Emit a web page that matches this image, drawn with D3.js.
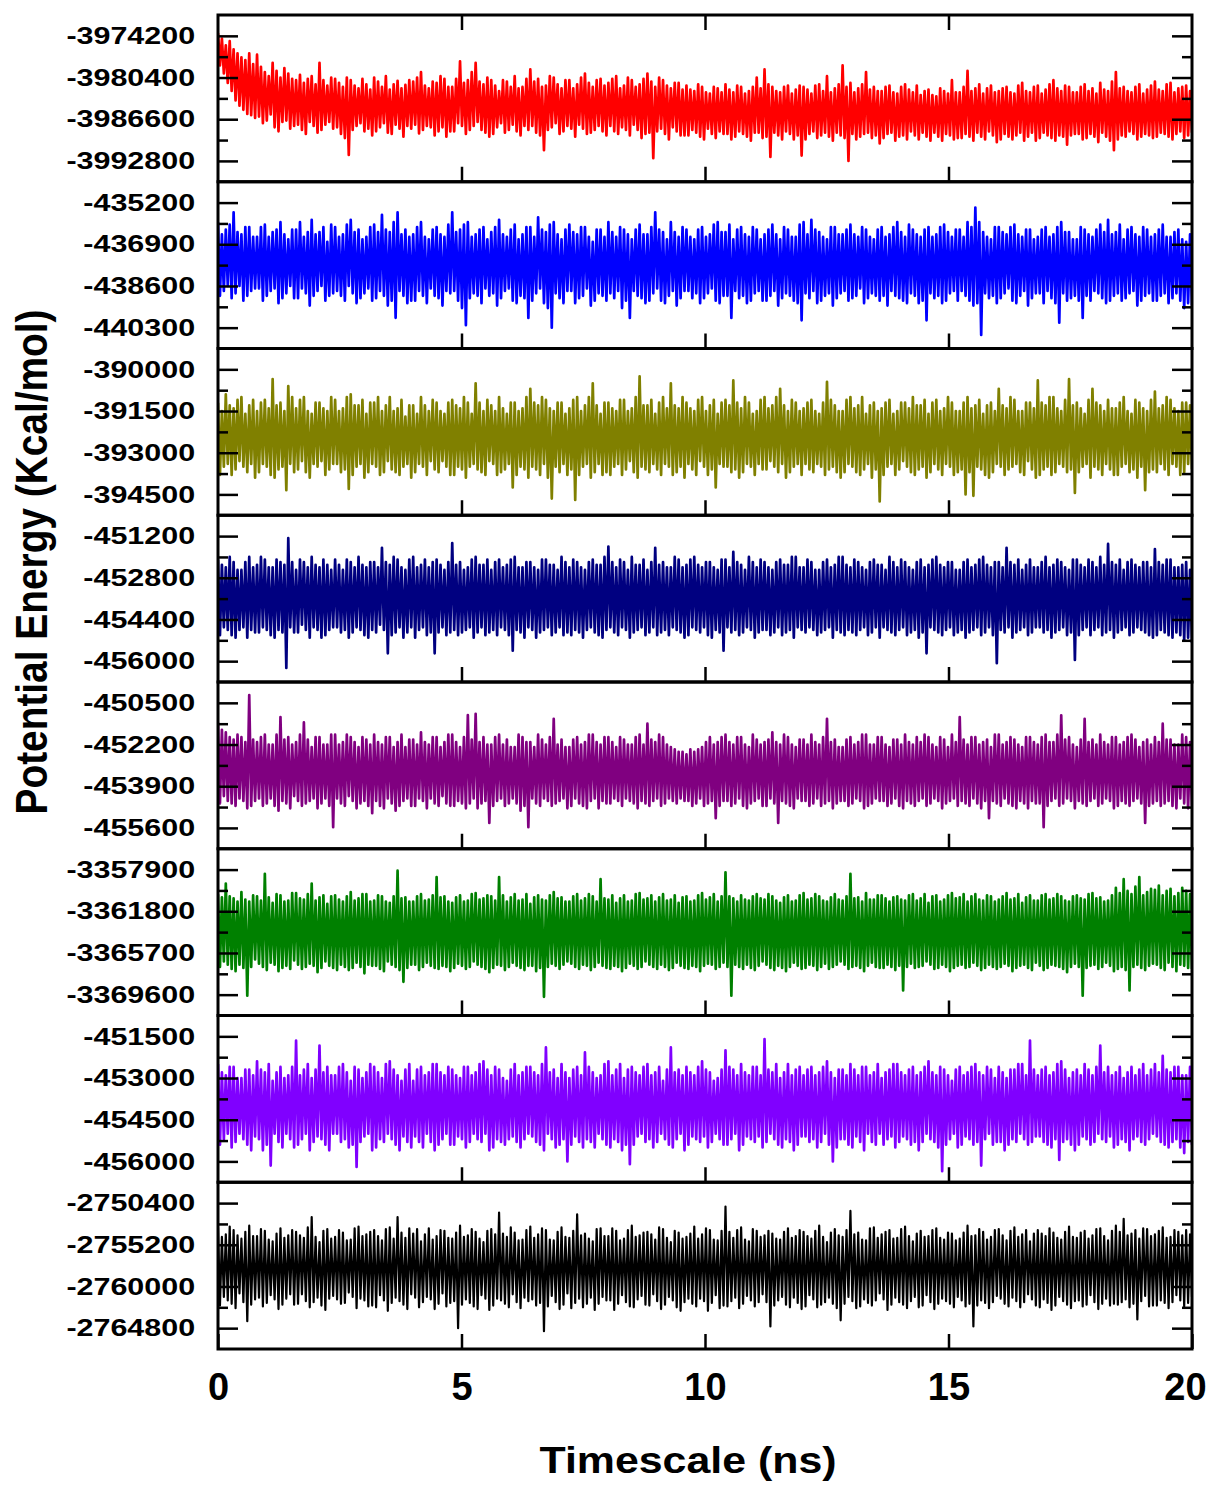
<!DOCTYPE html>
<html>
<head>
<meta charset="utf-8">
<script src="https://cdnjs.cloudflare.com/ajax/libs/d3/7.8.5/d3.min.js"></script>
<style>
  body { margin: 0; background: #fff; }
  svg text { font-family: "Liberation Sans", Arial, sans-serif; font-weight: bold; fill: #000; }
</style>
</head>
<body>
<div id="chart"></div>
<script>
// potential energy, 500 samples each over 0-20 ns
const energyRed = [
  -3973800, -3978600, -3974600, -3979800, -3975600, -3981200, -3975000, -3982400, -3976200, -3983800, -3976800, -3984600, -3977400, -3985200, -3977800, -3985800, -3976800, -3986000, -3978400, -3986400,
  -3977000, -3986200, -3978800, -3987200, -3979600, -3986800, -3980200, -3985900, -3978200, -3987800, -3979400, -3988400, -3980400, -3987000, -3979000, -3986800, -3979800, -3988000, -3980600, -3987600,
  -3980800, -3987400, -3980000, -3988200, -3981200, -3988800, -3980600, -3987000, -3980200, -3987600, -3981400, -3988600, -3978200, -3988200, -3980800, -3987400, -3981600, -3987000, -3980400, -3988000,
  -3980600, -3987800, -3981200, -3988800, -3981800, -3989400, -3980400, -3991900, -3980800, -3988200, -3981600, -3987600, -3982000, -3987200, -3980600, -3988400, -3981400, -3988000, -3982200, -3989000,
  -3980400, -3988400, -3981000, -3987800, -3981800, -3987200, -3980200, -3988600, -3982200, -3988800, -3981400, -3987400, -3980900, -3988000, -3982000, -3989200, -3981500, -3987600, -3980800, -3988000,
  -3981000, -3987400, -3980400, -3988700, -3979600, -3988200, -3981600, -3987600, -3982000, -3987800, -3981000, -3989000, -3981200, -3988400, -3980200, -3987800, -3980600, -3989200, -3981800, -3988400,
  -3981800, -3988400, -3980600, -3987200, -3978000, -3987600, -3981200, -3988800, -3980800, -3988200, -3979600, -3987600, -3978200, -3987000, -3981000, -3988200, -3981400, -3988600, -3980400, -3989200,
  -3980800, -3988800, -3981600, -3987800, -3982400, -3987200, -3980800, -3988600, -3981000, -3988200, -3981800, -3987400, -3980200, -3988400, -3982000, -3989000, -3981800, -3987600, -3980600, -3988200,
  -3979200, -3987600, -3981000, -3988600, -3980600, -3989000, -3981800, -3991200, -3981600, -3988200, -3980200, -3987800, -3980400, -3987200, -3981400, -3988800, -3982000, -3988400, -3980800, -3987600,
  -3980800, -3988000, -3982000, -3989200, -3981400, -3987400, -3980400, -3988000, -3979800, -3988800, -3981200, -3988600, -3981800, -3988200, -3980800, -3987600, -3980600, -3988400, -3981600, -3989000,
  -3981200, -3987600, -3980600, -3988400, -3980200, -3988800, -3982000, -3987800, -3981600, -3988200, -3980400, -3989000, -3980800, -3987400, -3981800, -3988200, -3981400, -3989400, -3980600, -3988800,
  -3979800, -3988600, -3981000, -3992400, -3981800, -3988400, -3980400, -3988000, -3980800, -3988800, -3981600, -3989600, -3982000, -3987800, -3981200, -3988400, -3981200, -3989000, -3982200, -3989000,
  -3981600, -3989000, -3982200, -3988200, -3982400, -3988600, -3981400, -3989200, -3981800, -3989600, -3982600, -3988000, -3982800, -3988800, -3981800, -3989400, -3982000, -3988400, -3982600, -3988800,
  -3981400, -3988800, -3982200, -3989600, -3982600, -3989200, -3981600, -3988400, -3981800, -3988800, -3982800, -3989200, -3982400, -3989800, -3981800, -3988600, -3980400, -3988600, -3982000, -3989400,
  -3979200, -3989200, -3981400, -3992200, -3981800, -3988600, -3982400, -3989000, -3982600, -3989600, -3981800, -3988400, -3981600, -3988800, -3982800, -3989600, -3982200, -3989000, -3981600, -3992000,
  -3981800, -3989600, -3982200, -3988800, -3982800, -3988400, -3981600, -3989400, -3981400, -3989000, -3982400, -3988600, -3980200, -3989200, -3982600, -3989800, -3982000, -3988600, -3981400, -3989000,
  -3978600, -3989400, -3981800, -3992800, -3981200, -3988800, -3982600, -3989600, -3982000, -3989200, -3981400, -3988800, -3979600, -3988600, -3982200, -3989400, -3981800, -3989000, -3982400, -3990200,
  -3982400, -3989400, -3981800, -3988800, -3981600, -3988600, -3982600, -3989800, -3982800, -3989200, -3981800, -3989000, -3981400, -3989600, -3982200, -3988400, -3982600, -3989000, -3981600, -3989600,
  -3983000, -3988600, -3982400, -3989200, -3982200, -3989800, -3983000, -3988600, -3983200, -3989200, -3982000, -3989800, -3982400, -3988800, -3982800, -3989000, -3980800, -3989600, -3982600, -3989400,
  -3982600, -3989400, -3981800, -3988800, -3979400, -3989200, -3982400, -3989800, -3982000, -3988600, -3981400, -3989200, -3982800, -3989600, -3982000, -3988400, -3981600, -3989000, -3982600, -3990000,
  -3982400, -3989600, -3982000, -3988800, -3981800, -3989200, -3982600, -3989600, -3982800, -3989000, -3981600, -3988600, -3981200, -3989800, -3982400, -3989200, -3982600, -3988600, -3981800, -3989800,
  -3981600, -3989400, -3982800, -3988600, -3982200, -3989000, -3981400, -3989400, -3980800, -3989800, -3982000, -3989000, -3982400, -3989200, -3981600, -3990400, -3981800, -3989000, -3982600, -3988800,
  -3982600, -3988800, -3981800, -3989600, -3981400, -3989400, -3982400, -3988800, -3982000, -3989200, -3982800, -3990000, -3981200, -3988600, -3982200, -3989200, -3982400, -3989800, -3981000, -3991200,
  -3979600, -3989600, -3982000, -3989000, -3981800, -3989200, -3982400, -3988400, -3982600, -3988800, -3981800, -3989600, -3981400, -3989200, -3982800, -3988800, -3982200, -3989000, -3981600, -3989400,
  -3981000, -3989200, -3982200, -3988600, -3982400, -3988800, -3981400, -3989200, -3981200, -3989600, -3982600, -3988800, -3982000, -3988400, -3981800, -3989400, -3981600, -3989000, -3982400, -3988600
];
const energyBlue = [
  -436000, -439000, -436500, -438800, -436300, -438600, -436100, -439100, -435600, -438900, -436400, -438600, -436500, -439200, -436200, -439000, -436200, -438800, -436600, -438700,
  -436600, -438700, -436200, -439200, -436100, -439000, -436600, -438800, -436400, -438700, -436300, -439300, -436000, -439100, -436500, -438900, -436700, -438600, -436300, -439100,
  -436300, -439100, -436000, -438700, -436600, -438900, -436400, -439400, -435900, -439000, -436500, -438800, -436400, -438600, -436200, -439200, -436800, -439000, -436100, -438900,
  -436200, -438800, -436600, -439000, -436500, -439200, -436100, -438600, -435900, -438900, -436400, -439300, -436300, -439100, -436700, -438900, -436600, -438700, -436200, -439200,
  -436100, -439100, -436400, -438800, -435700, -439000, -436300, -439400, -436400, -439200, -436000, -439900, -435600, -438800, -436500, -439000, -436300, -439300, -436600, -439200,
  -436500, -439200, -436200, -438800, -436000, -439000, -436600, -439300, -436700, -438700, -436300, -439000, -436200, -439100, -436500, -439400, -436600, -438800, -436100, -438900,
  -435600, -438800, -436400, -439200, -436300, -439500, -436100, -440200, -436000, -439100, -436600, -438900, -436500, -439000, -436300, -439300, -436200, -438700, -436700, -439000,
  -436400, -438900, -436200, -439400, -435900, -439100, -436500, -438800, -436600, -438700, -436300, -439200, -436100, -439300, -436700, -439000, -436500, -439100, -436200, -439900,
  -436200, -439200, -436600, -438900, -435800, -438700, -436300, -439300, -436400, -439500, -436100, -440300, -436000, -438900, -436500, -439100, -436700, -439300, -436300, -438800,
  -436100, -438800, -436400, -439300, -436500, -439100, -436200, -439000, -436200, -438700, -436600, -439400, -436800, -439200, -436300, -438900, -436300, -439000, -436600, -439200,
  -436000, -438900, -436400, -439100, -436600, -438800, -436200, -439500, -436300, -439200, -436500, -439900, -436700, -438800, -436300, -439000, -436100, -439100, -436500, -439300,
  -436500, -439200, -436200, -438900, -435600, -438700, -436300, -439200, -436400, -439300, -436700, -439000, -436000, -438800, -436400, -439400, -436600, -439100, -436200, -438800,
  -436300, -438800, -436600, -439100, -436700, -438900, -436300, -439300, -436200, -439100, -436600, -438900, -436500, -438700, -436100, -439200, -436000, -439300, -436400, -439000,
  -436400, -439000, -436100, -439900, -436700, -438800, -436300, -439100, -436200, -439000, -436500, -439300, -436600, -439200, -436200, -438900, -436300, -438800, -436700, -439200,
  -436500, -439200, -436300, -439000, -436100, -438800, -436500, -439400, -436700, -439100, -436200, -438900, -436300, -439000, -436600, -439200, -436600, -439300, -436100, -440000,
  -436000, -438900, -436500, -439100, -435900, -438800, -436300, -439300, -436400, -439200, -436600, -439000, -436700, -438900, -436200, -439400, -436200, -439100, -436500, -438900,
  -436500, -438800, -436300, -439200, -436100, -439100, -436500, -439000, -436600, -438700, -436200, -439300, -436300, -439100, -436600, -438900, -436700, -439000, -436300, -439200,
  -436200, -439000, -436600, -439400, -436500, -438800, -436200, -439000, -436000, -439100, -436400, -439200, -436600, -439300, -436100, -438900, -436300, -439000, -436500, -439300,
  -436600, -439200, -436300, -440000, -436200, -438900, -436600, -439100, -436500, -439000, -436200, -439300, -436100, -439200, -436400, -438900, -436600, -438800, -436300, -439200,
  -436300, -438800, -436600, -439000, -436000, -439200, -436200, -439400, -435400, -439300, -436000, -440600, -436400, -438900, -436600, -439100, -436700, -439000, -436200, -439300,
  -436200, -439100, -436400, -438900, -436500, -438700, -436200, -439200, -436100, -439300, -436500, -439000, -436600, -438800, -436300, -439400, -436300, -439100, -436700, -438900,
  -436600, -438900, -436300, -439300, -436200, -438800, -436600, -439100, -436500, -439300, -436200, -440100, -436000, -438900, -436400, -439200, -436400, -439100, -436700, -439000,
  -436700, -439200, -436200, -439900, -436300, -439000, -436500, -439200, -436600, -438800, -436300, -438900, -436100, -439100, -436400, -439300, -435900, -439200, -436500, -439000,
  -436400, -438900, -436100, -439200, -436700, -439100, -436300, -438900, -436200, -438800, -436500, -439400, -436600, -439200, -436200, -439000, -436300, -438900, -436600, -439200,
  -436500, -439200, -436300, -439000, -436100, -438900, -436600, -439300, -436600, -439100, -436400, -438900, -436300, -439200, -436700, -439500, -436800, -439300, -436500, -439400
];
const energyOlive = [
  -391200, -393800, -391500, -393500, -390900, -393400, -391300, -393800, -391400, -393600, -391100, -393300, -391000, -393500, -391600, -393700, -391300, -393400, -391100, -393900,
  -391500, -393700, -391200, -393400, -391100, -393500, -391400, -393800, -390350, -393900, -391300, -393600, -391200, -393500, -391500, -394350, -390600, -393400, -391000, -393700,
  -391400, -393600, -391100, -393300, -391000, -393700, -391500, -393900, -391600, -393400, -391200, -393500, -391200, -393300, -391400, -393800, -391500, -393600, -391000, -393400,
  -391100, -393400, -391500, -393700, -391400, -393600, -391000, -394300, -390900, -393800, -391300, -393500, -391300, -393400, -391100, -393900, -391600, -393700, -391200, -393400,
  -391200, -393500, -391000, -393800, -391500, -393700, -391300, -393300, -391000, -393600, -391500, -393700, -391400, -393800, -391100, -393500, -391700, -393400, -391300, -393900,
  -391300, -393700, -391600, -393400, -391000, -393500, -391300, -393800, -391500, -393300, -391100, -393600, -391200, -393700, -391500, -393300, -391600, -393500, -391200, -393800,
  -391100, -393800, -391300, -393500, -391400, -393600, -391000, -393900, -391200, -393500, -391600, -393400, -390500, -393600, -391200, -393700, -391500, -393800, -391100, -393300,
  -391300, -393400, -391500, -393800, -391000, -393700, -391400, -393600, -391600, -393400, -391200, -394250, -391200, -393800, -391500, -393500, -391400, -393600, -391000, -393900,
  -390700, -393500, -391200, -393600, -391300, -393800, -391000, -393400, -391100, -393900, -391400, -394650, -391500, -393500, -391200, -393700, -391200, -393400, -391600, -393800,
  -391400, -393600, -391100, -394700, -391000, -393800, -391500, -393500, -391300, -393400, -391000, -393900, -390500, -393700, -391300, -393400, -391600, -393800, -391200, -393700,
  -391200, -393800, -391400, -393500, -391500, -393400, -391100, -393800, -391100, -393600, -391500, -393300, -391400, -393700, -391000, -393900, -390250, -393500, -391300, -393600,
  -391300, -393700, -391100, -393400, -391600, -393600, -391200, -393800, -391000, -393400, -391400, -393500, -390500, -393800, -391300, -393700, -391400, -393500, -391000, -393900,
  -391200, -393400, -391400, -393600, -391500, -393800, -391100, -393300, -391000, -393500, -391500, -393800, -391300, -393600, -391100, -394250, -391600, -393400, -391200, -393500,
  -391100, -393500, -391300, -393700, -390400, -393600, -391200, -393900, -391400, -393700, -391000, -393400, -391200, -393500, -391600, -393800, -391500, -393400, -391100, -393600,
  -391000, -393600, -391400, -393300, -391300, -393500, -391000, -393700, -390700, -393400, -391300, -393900, -391500, -393700, -391100, -393500, -391200, -393400, -391500, -393800,
  -391400, -393400, -391200, -393600, -391100, -393700, -391500, -393400, -391600, -393500, -391200, -393800, -390450, -393600, -391100, -393500, -391300, -393700, -391500, -393900,
  -391500, -393700, -391100, -393400, -391000, -393500, -391400, -393700, -391300, -393800, -391000, -393600, -391600, -393400, -391300, -393900, -391200, -393600, -391500, -394750,
  -391400, -393800, -391200, -393500, -391100, -393400, -391600, -393800, -391500, -393600, -391200, -393300, -391200, -393500, -391400, -393700, -391000, -393800, -391300, -393600,
  -391300, -393500, -391100, -393900, -391600, -393700, -391200, -393400, -391100, -393600, -391500, -393800, -391400, -393400, -391000, -393500, -391200, -393800, -391500, -393700,
  -391500, -393600, -391200, -394500, -391000, -393700, -391400, -394550, -391300, -393500, -391100, -393600, -391600, -393800, -391300, -393900, -391200, -393700, -391500, -393400,
  -390700, -393500, -391300, -393800, -391400, -393600, -391000, -393500, -391100, -393400, -391500, -393700, -391500, -393800, -391200, -393300, -391200, -393600, -391400, -393900,
  -390400, -393800, -391200, -393600, -391300, -393500, -391000, -393800, -391000, -393700, -391400, -393400, -391500, -393500, -391100, -393700, -390350, -393600, -391300, -394450,
  -391200, -393700, -391400, -393500, -391600, -393400, -391100, -393900, -390700, -393500, -391200, -393600, -391300, -393800, -391500, -393400, -391100, -393600, -391400, -393800,
  -391400, -393800, -391200, -393500, -391000, -393400, -391500, -393700, -391600, -393600, -391100, -393900, -391200, -393500, -391400, -394350, -391500, -393700, -391100, -393600,
  -390800, -393700, -391400, -393400, -391300, -393600, -391000, -393800, -391100, -393400, -391400, -393500, -391500, -393800, -391200, -393700, -391200, -393400, -391300, -393600
];
const energyNavy = [
  -452100, -455000, -452300, -454700, -452400, -454800, -452000, -455000, -452200, -455100, -452500, -454800, -452500, -454700, -452200, -455100, -452000, -454800, -452400, -454900,
  -452300, -454900, -452000, -454700, -452100, -454800, -452400, -455000, -452400, -455100, -452100, -454800, -452200, -454900, -452300, -456260, -451280, -454700, -452200, -454900,
  -452500, -454900, -452100, -454600, -452200, -454800, -452400, -455100, -452000, -454700, -452300, -454800, -452400, -455100, -452100, -455000, -452300, -454800, -452500, -454700,
  -452100, -454700, -452300, -454900, -452500, -454800, -452100, -455100, -452200, -454900, -452400, -454700, -452000, -454800, -452300, -455000, -452400, -455100, -452200, -454800,
  -452200, -454900, -452400, -454600, -451650, -454800, -452200, -455700, -452300, -455000, -452000, -454900, -452100, -454700, -452400, -455100, -452500, -454900, -452100, -454700,
  -452000, -455100, -452400, -454800, -452300, -454700, -452100, -455000, -452400, -454900, -452200, -455700, -452100, -454900, -452300, -454700, -452500, -455000, -452200, -454900,
  -451470, -454800, -452300, -455000, -452200, -454900, -452500, -454800, -452400, -454700, -452100, -455100, -452000, -454900, -452300, -454700, -452300, -455000, -452100, -454900,
  -452500, -454800, -452200, -455000, -452100, -454700, -452400, -454800, -452300, -455000, -452100, -455600, -452000, -454800, -452400, -454900, -452400, -455100, -452200, -454700,
  -452200, -454800, -452400, -455100, -452500, -454900, -452100, -454800, -452100, -454700, -452300, -455000, -452300, -454900, -452500, -454700, -452000, -455000, -452200, -454900,
  -452400, -455000, -452100, -454800, -452200, -454900, -452400, -455100, -452500, -454800, -452200, -454700, -452100, -454900, -452300, -455000, -452300, -455100, -452000, -454800,
  -451600, -454700, -452200, -454900, -452400, -455000, -452100, -454700, -452200, -454800, -452500, -455100, -452000, -454900, -452300, -454800, -452300, -454700, -452100, -455000,
  -452500, -454900, -452200, -454700, -451650, -455000, -452300, -454900, -452200, -454800, -452400, -455000, -452400, -454700, -452000, -454800, -452100, -454900, -452400, -455100,
  -452300, -455000, -452100, -454700, -452000, -454800, -452300, -454900, -452400, -454700, -452200, -455000, -452200, -455100, -452400, -454800, -452500, -454900, -452100, -455600,
  -452100, -454700, -452400, -454900, -451800, -454800, -452200, -455000, -452300, -454900, -452500, -454700, -452000, -454800, -452200, -455100, -452400, -454900, -452100, -454800,
  -452200, -454800, -452400, -455000, -452500, -454900, -452200, -454700, -452100, -455000, -452300, -454900, -452300, -454800, -452000, -455100, -452000, -454700, -452400, -454800,
  -452400, -454900, -452100, -454700, -452200, -454800, -452500, -455000, -452500, -454900, -452200, -454800, -452100, -454700, -452400, -455100, -452300, -454800, -452000, -454900,
  -452000, -455000, -452300, -454800, -452400, -454900, -452100, -455000, -452200, -454800, -452400, -454700, -452500, -455000, -452200, -454900, -452100, -454700, -452300, -455100,
  -452300, -454700, -452500, -454800, -452000, -454900, -452200, -455000, -452400, -454800, -452100, -454700, -452200, -455000, -452400, -454900, -452500, -454800, -452200, -455100,
  -452100, -454900, -452400, -455700, -452300, -454700, -452100, -454800, -452000, -454900, -452300, -455000, -452400, -454800, -452200, -454700, -452200, -455000, -452500, -454900,
  -452500, -454800, -452200, -455100, -452100, -454900, -452400, -454800, -452300, -454700, -452100, -455000, -452000, -454900, -452300, -454700, -452400, -455000, -452200, -456080,
  -452200, -454800, -452400, -454900, -451650, -454700, -452200, -455100, -452300, -454900, -452100, -454800, -452500, -454700, -452300, -455000, -452100, -454900, -452400, -454700,
  -452400, -454700, -452200, -454900, -452000, -454800, -452400, -455100, -452300, -454900, -452100, -454800, -452200, -454700, -452400, -455000, -452500, -454900, -452100, -455950,
  -452100, -455000, -452300, -454800, -452400, -454700, -452100, -455000, -452200, -454800, -452400, -454700, -452000, -455000, -452300, -454900, -451500, -454800, -452200, -455100,
  -452300, -454900, -452100, -454800, -452500, -454700, -452200, -455000, -452100, -454900, -452300, -454700, -452400, -454800, -452200, -454900, -452200, -455000, -452400, -455100,
  -451700, -455000, -452200, -454800, -452300, -454900, -452100, -455000, -452100, -455100, -452400, -454900, -452400, -455000, -452300, -455200, -452200, -455100, -452500, -455300
];
const energyPurple = [
  -451300, -454600, -451600, -454300, -451700, -454500, -451900, -454600, -452000, -454700, -451800, -454400, -451900, -454500, -452100, -454800, -450180, -454700, -452000, -454500,
  -452100, -454400, -451900, -454700, -451800, -454600, -452200, -454400, -452200, -454700, -451800, -454900, -451080, -454500, -452000, -454600, -451900, -454800, -452200, -454300,
  -452100, -454500, -451800, -454700, -451300, -454600, -452000, -454500, -452300, -454400, -451900, -454800, -451900, -454600, -452200, -454400, -452200, -454700, -451800, -455570,
  -451800, -454400, -452200, -454600, -452100, -454700, -451800, -454300, -451900, -454500, -452100, -454800, -452300, -454600, -451900, -454500, -452000, -454700, -452200, -455000,
  -451800, -454500, -452100, -454700, -452200, -454800, -451900, -454400, -451900, -454600, -452300, -454900, -452100, -454700, -451800, -454500, -452300, -454400, -452000, -454700,
  -452000, -454700, -452200, -454400, -451700, -454500, -452100, -454800, -452200, -454400, -451900, -454600, -451900, -454700, -452300, -454300, -452100, -454600, -451800, -454700,
  -451800, -454700, -452100, -454500, -452300, -454600, -451900, -454800, -451000, -454600, -452000, -454400, -450950, -454800, -452100, -454600, -451900, -454500, -452200, -455400,
  -452200, -454700, -451900, -454500, -451800, -454400, -452200, -454700, -452000, -454600, -452300, -454400, -452300, -454600, -451800, -454900, -451900, -454700, -452100, -455570,
  -452100, -454400, -452300, -454600, -451800, -454700, -452000, -454400, -452200, -454500, -451900, -454700, -451150, -454600, -452200, -454500, -452000, -454400, -452300, -454800,
  -452300, -454700, -452000, -454400, -451900, -454600, -452200, -454700, -452100, -454800, -451800, -454500, -451800, -454400, -452100, -454800, -452200, -454500, -451900, -454600,
  -451900, -454600, -452100, -454400, -452300, -454500, -451900, -454700, -452000, -454400, -452200, -454500, -452200, -454600, -451900, -454800, -451800, -454500, -452200, -454600,
  -451350, -454700, -452000, -454500, -452100, -454400, -451800, -454700, -451900, -454600, -452200, -454400, -452300, -454500, -452400, -454600, -452500, -454400, -452500, -454500,
  -452600, -454500, -452400, -454700, -452500, -454600, -452400, -454400, -452300, -454700, -452100, -454600, -451900, -454500, -452200, -455200, -452100, -454700, -451900, -454500,
  -451800, -454500, -452100, -454700, -452200, -454600, -451900, -454400, -451900, -454700, -452200, -454800, -452300, -454600, -451800, -454500, -452000, -454400, -452200, -454700,
  -452100, -454700, -452000, -454400, -451700, -454600, -452100, -455400, -452200, -454500, -451800, -454600, -451900, -454700, -452200, -454800, -452300, -454400, -452000, -454500,
  -452000, -454500, -452200, -454700, -451800, -454600, -452100, -454400, -452200, -454700, -451900, -454600, -451150, -454500, -452100, -454800, -452000, -454600, -452300, -454500,
  -452300, -454500, -452000, -454700, -451900, -454600, -452200, -454400, -452100, -454500, -451800, -454800, -451800, -454700, -452200, -454600, -452200, -454400, -451900, -454500,
  -451900, -454500, -452200, -454700, -452300, -454600, -452000, -454400, -452000, -454700, -452200, -454800, -451800, -454500, -452100, -454600, -452200, -454700, -451900, -454500,
  -452100, -454400, -451800, -454700, -451900, -454600, -452200, -454400, -452300, -454500, -451900, -454800, -452000, -454600, -452300, -454500, -451800, -454400, -452100, -454700,
  -451080, -454500, -452000, -454600, -452200, -454700, -451900, -454400, -451900, -454600, -452200, -454800, -452100, -454500, -452000, -455200, -452300, -454500, -451800, -454600,
  -451800, -454700, -452200, -454400, -452100, -454600, -451900, -454700, -452000, -454800, -452200, -454500, -452300, -454600, -451900, -454800, -451900, -454500, -452100, -454600,
  -452200, -454600, -451900, -455570, -451800, -454700, -452100, -454500, -452100, -454400, -451800, -454700, -451010, -454600, -452000, -454400, -451900, -454500, -452200, -454800,
  -452300, -454500, -452000, -454600, -451150, -454700, -452100, -454500, -452000, -454400, -452200, -454700, -451800, -454600, -452100, -454400, -452200, -454500, -451900, -454800,
  -451900, -454700, -452200, -454500, -452100, -454600, -451900, -454700, -451800, -454500, -452000, -454400, -452300, -454600, -452100, -455400, -452000, -454700, -452200, -454600,
  -451900, -454500, -452100, -454700, -451350, -454600, -452000, -454500, -452000, -454700, -452200, -454800, -452200, -454400, -451800, -454600, -451900, -454800, -452100, -454700
];
const energyGreen = [
  -3360200, -3367000, -3360500, -3366500, -3359200, -3366800, -3360400, -3367200, -3360600, -3367400, -3360900, -3366800, -3360000, -3367100, -3360700, -3369700, -3360900, -3367000, -3360300, -3366300,
  -3360400, -3366700, -3360800, -3367000, -3358300, -3367300, -3360500, -3366600, -3361000, -3366800, -3360200, -3367400, -3360300, -3367100, -3360900, -3366900, -3360800, -3367200, -3360100, -3366400,
  -3360100, -3366800, -3360600, -3367200, -3360700, -3367000, -3360200, -3366700, -3359200, -3366900, -3360800, -3367500, -3360500, -3367100, -3360300, -3366500, -3361100, -3366900, -3360400, -3367100,
  -3360300, -3367300, -3360700, -3366800, -3360900, -3367000, -3360400, -3367300, -3360000, -3367100, -3360800, -3366600, -3360600, -3367000, -3360200, -3367600, -3360200, -3366800, -3360900, -3366900,
  -3360800, -3366900, -3360300, -3367200, -3360400, -3367400, -3360900, -3366500, -3361000, -3366800, -3360400, -3367000, -3358000, -3367300, -3360600, -3368400, -3360500, -3367100, -3360900, -3366800,
  -3360900, -3366800, -3360400, -3367300, -3360200, -3367000, -3360800, -3366600, -3360700, -3366900, -3360300, -3367100, -3358600, -3367200, -3360500, -3366900, -3360400, -3367000, -3360900, -3367400,
  -3361000, -3367100, -3360500, -3366700, -3360300, -3366900, -3360900, -3367200, -3360800, -3367000, -3360200, -3366500, -3360100, -3366800, -3360700, -3367000, -3360600, -3367200, -3360300, -3367500,
  -3360400, -3367100, -3360800, -3366800, -3358600, -3366900, -3360300, -3367300, -3360900, -3367000, -3360500, -3366600, -3360200, -3366900, -3360800, -3367100, -3360700, -3367300, -3360200, -3366900,
  -3361100, -3366900, -3360500, -3367400, -3360300, -3367100, -3360700, -3369800, -3360800, -3367000, -3360300, -3366700, -3360000, -3366900, -3360600, -3367200, -3360500, -3366800, -3360900, -3366500,
  -3360900, -3366700, -3360400, -3367000, -3360200, -3367200, -3360800, -3366800, -3360600, -3366900, -3360200, -3367300, -3360400, -3367000, -3360900, -3366600, -3358800, -3366900, -3360600, -3367100,
  -3360700, -3367200, -3360300, -3366900, -3361000, -3367000, -3360600, -3367400, -3360300, -3367100, -3360900, -3366700, -3360800, -3366900, -3360200, -3367200, -3360100, -3367000, -3360700, -3366500,
  -3360600, -3366800, -3360300, -3367000, -3360900, -3367200, -3360500, -3366800, -3360200, -3367000, -3360800, -3367300, -3360700, -3367100, -3360300, -3366600, -3361000, -3366900, -3360500, -3367100,
  -3360400, -3367200, -3360900, -3366900, -3360800, -3367000, -3360300, -3367400, -3360100, -3366900, -3360700, -3366700, -3360500, -3366800, -3360200, -3367200, -3360900, -3367000, -3360400, -3366600,
  -3358150, -3367000, -3360400, -3369700, -3360600, -3366800, -3360900, -3367000, -3360300, -3367200, -3360700, -3366800, -3360800, -3367100, -3360400, -3367300, -3360200, -3366900, -3360600, -3366500,
  -3360700, -3366800, -3360200, -3367100, -3360400, -3367300, -3360800, -3366900, -3361000, -3367100, -3360500, -3367400, -3360300, -3367000, -3360900, -3366600, -3360800, -3366900, -3360300, -3367200,
  -3360100, -3367100, -3360700, -3366800, -3360600, -3366900, -3360200, -3367300, -3360400, -3367000, -3360800, -3366700, -3360900, -3367200, -3360500, -3367000, -3360200, -3366800, -3360700, -3366500,
  -3360800, -3366800, -3360400, -3367200, -3358300, -3367000, -3360600, -3366900, -3360500, -3367100, -3360900, -3367400, -3360100, -3366900, -3360700, -3366600, -3360700, -3367000, -3360300, -3367100,
  -3360300, -3367100, -3360600, -3366800, -3360900, -3367000, -3360500, -3367300, -3360400, -3366900, -3360700, -3369200, -3360800, -3367000, -3360300, -3366700, -3360200, -3367100, -3360800, -3367000,
  -3360600, -3366900, -3360200, -3366500, -3361000, -3366800, -3360400, -3367200, -3360300, -3367100, -3360900, -3366800, -3360700, -3367000, -3360300, -3367400, -3360100, -3367100, -3360600, -3366900,
  -3360500, -3366800, -3360200, -3367100, -3360900, -3367000, -3360400, -3366600, -3360200, -3366900, -3360700, -3367300, -3360800, -3367100, -3360300, -3366800, -3360400, -3367000, -3360900, -3367200,
  -3360700, -3367000, -3360400, -3366700, -3360100, -3366900, -3360700, -3367400, -3360600, -3367100, -3360200, -3366900, -3361000, -3366800, -3360500, -3367100, -3360300, -3367300, -3360800, -3366600,
  -3360800, -3366900, -3360300, -3367300, -3360200, -3367100, -3360700, -3366800, -3360600, -3366900, -3360200, -3367000, -3360400, -3367200, -3360800, -3367500, -3360900, -3367000, -3360400, -3366700,
  -3360300, -3367000, -3360600, -3369700, -3360700, -3367100, -3360200, -3366900, -3360100, -3366800, -3360600, -3367200, -3360500, -3367000, -3360900, -3366600, -3360800, -3366900, -3360300, -3367400,
  -3359600, -3367200, -3360100, -3367000, -3358800, -3367300, -3359900, -3369200, -3360200, -3367000, -3359500, -3366800, -3358600, -3367100, -3360300, -3367300, -3360000, -3366900, -3359700, -3366700,
  -3359800, -3366800, -3359400, -3367100, -3360300, -3367300, -3359900, -3366600, -3359700, -3367000, -3360400, -3367400, -3360100, -3366800, -3359600, -3366900, -3359900, -3367100, -3360200, -3367200
];
const energyViolet = [
  -452500, -455400, -452800, -455200, -452900, -455000, -452600, -455500, -452600, -455300, -453000, -455000, -453000, -455200, -452700, -455400, -452700, -455600, -452900, -455100,
  -452400, -455200, -452700, -455600, -452800, -455400, -452500, -456150, -453100, -455000, -452800, -455300, -452600, -455500, -453000, -455000, -452900, -455200, -452600, -455500,
  -451650, -455400, -452900, -455200, -452700, -455000, -452500, -455600, -453000, -455300, -452700, -455100, -451830, -455200, -452800, -455400, -452600, -455600, -452900, -455000,
  -452900, -455000, -452600, -455300, -452500, -455200, -452800, -455500, -453100, -455400, -452600, -456200, -452700, -455300, -453000, -455100, -452800, -455000, -452500, -455600,
  -452600, -455500, -452800, -455200, -453000, -455300, -452500, -455000, -452400, -455200, -452700, -455400, -452900, -455600, -453100, -455100, -452700, -455300, -452500, -455500,
  -453100, -455100, -452700, -455300, -452600, -455500, -452900, -455000, -452800, -455300, -452500, -455600, -452500, -455400, -452800, -455200, -452900, -455000, -452600, -455400,
  -452700, -455400, -452900, -455100, -453000, -455200, -452600, -455500, -452600, -455300, -452900, -455000, -452800, -455200, -452500, -455300, -452400, -455000, -452700, -455600,
  -452900, -455500, -452600, -455200, -452700, -455300, -453000, -455400, -453100, -455200, -452700, -455100, -452500, -455300, -452900, -455500, -452800, -455200, -452600, -455000,
  -452600, -455100, -452800, -455300, -452900, -455400, -452500, -455600, -451900, -455000, -452800, -455200, -452700, -455500, -453000, -455400, -452500, -455200, -452800, -456000,
  -453000, -455400, -452700, -455100, -452600, -455300, -452900, -455500, -452080, -455200, -452600, -455300, -452800, -455500, -453000, -455000, -452900, -455200, -452500, -455400,
  -452400, -455500, -452900, -455200, -452700, -455300, -452500, -455600, -453000, -455400, -452700, -456100, -452600, -455400, -452800, -455100, -452900, -455000, -452600, -455300,
  -452500, -455200, -452900, -455500, -452800, -455300, -452600, -455000, -453100, -455200, -452700, -455400, -451900, -455500, -452800, -455200, -452700, -455000, -452900, -455600,
  -452600, -455400, -452800, -455100, -452900, -455200, -452600, -455300, -452400, -455100, -452700, -455500, -452800, -455300, -453100, -455000, -453000, -455200, -452700, -455400,
  -452000, -455400, -452600, -455200, -452700, -455000, -452900, -455600, -452500, -455400, -452800, -455100, -452900, -455200, -452600, -455300, -452600, -455100, -452900, -455500,
  -451600, -455300, -452700, -455000, -452800, -455200, -452500, -455400, -453000, -455500, -452800, -455200, -452500, -455300, -452900, -455600, -452700, -455400, -452600, -455100,
  -452900, -455100, -452700, -455300, -452600, -455200, -452900, -455500, -452800, -455300, -452600, -455000, -452400, -455400, -452800, -456000, -453000, -455500, -452700, -455200,
  -452700, -455200, -452900, -455400, -452500, -455500, -452700, -455100, -452900, -455300, -452600, -455600, -452600, -455000, -452900, -455300, -452800, -455400, -452500, -455000,
  -453000, -455400, -452800, -455200, -452700, -455100, -452500, -455500, -452500, -455300, -452800, -455100, -452900, -455200, -452700, -455400, -452600, -455300, -452900, -455600,
  -452800, -455300, -452600, -455000, -452400, -455200, -452800, -455300, -452900, -455500, -452600, -456350, -452700, -455400, -452900, -455200, -453100, -455000, -452700, -455500,
  -452600, -455400, -452900, -455100, -452800, -455200, -452600, -455400, -452500, -455300, -452800, -456150, -452900, -455200, -452600, -455000, -452700, -455400, -453000, -455300,
  -452600, -455300, -452800, -455600, -453000, -455400, -452700, -455200, -452700, -455300, -452500, -455000, -452500, -455200, -452900, -455400, -451650, -455300, -452700, -455100,
  -452900, -455100, -452700, -455300, -452600, -455400, -452900, -455500, -452800, -455200, -452500, -455950, -452400, -455300, -452700, -455200, -453000, -455400, -452800, -455600,
  -452700, -455400, -452900, -455100, -452500, -455200, -452700, -455400, -452900, -455300, -452600, -455000, -451830, -455200, -452800, -455300, -452600, -455100, -452900, -455500,
  -452800, -455400, -452600, -455200, -453000, -455300, -452800, -455600, -452600, -455200, -452900, -455100, -452700, -455300, -452500, -455400, -452900, -455200, -452700, -455000,
  -452500, -455100, -452800, -455300, -452200, -455400, -452700, -455500, -452800, -455300, -452600, -455200, -452600, -455500, -452900, -455700, -452900, -455300, -452600, -455400
];
const energyBlack = [
  -2753200, -2762200, -2754300, -2761200, -2754000, -2761600, -2753100, -2762000, -2753500, -2762500, -2754100, -2760800, -2754500, -2761800, -2753700, -2764000, -2753000, -2762100, -2754200, -2761500,
  -2754200, -2761300, -2753400, -2762300, -2753600, -2761900, -2754600, -2761000, -2754800, -2761500, -2753900, -2762600, -2753300, -2762100, -2754400, -2761400, -2754100, -2760900, -2753500, -2762100,
  -2753700, -2762000, -2754100, -2760900, -2754400, -2761700, -2753200, -2762400, -2752000, -2761800, -2754300, -2761300, -2754900, -2762200, -2753600, -2762700, -2753400, -2761400, -2754500, -2761100,
  -2754300, -2761500, -2753500, -2762000, -2753800, -2761900, -2754700, -2760700, -2754600, -2761200, -2753300, -2762500, -2753100, -2761400, -2754200, -2761600, -2754000, -2762300, -2753700, -2762200,
  -2753500, -2762400, -2754200, -2761000, -2754700, -2761600, -2753400, -2762800, -2753200, -2761900, -2754500, -2761300, -2752000, -2761700, -2753800, -2762100, -2754400, -2762600, -2753300, -2760900,
  -2753900, -2761300, -2753400, -2762400, -2754800, -2761800, -2754000, -2761200, -2753300, -2761500, -2754600, -2762600, -2754200, -2762000, -2753500, -2760800, -2753600, -2762300, -2754400, -2761900,
  -2754500, -2761700, -2753800, -2764800, -2753000, -2762100, -2754300, -2761500, -2754100, -2761900, -2753400, -2762300, -2753700, -2762600, -2754500, -2761000, -2754900, -2761400, -2753600, -2762700,
  -2753400, -2762200, -2754000, -2761400, -2751500, -2761600, -2753900, -2762000, -2754300, -2762400, -2753200, -2760900, -2753800, -2761800, -2754700, -2762500, -2754600, -2761300, -2753500, -2761700,
  -2753100, -2761500, -2754400, -2762200, -2754000, -2761900, -2753300, -2765150, -2753500, -2762300, -2754600, -2761100, -2754700, -2761800, -2753700, -2762600, -2753200, -2762100, -2754300, -2760800,
  -2754400, -2762500, -2753600, -2761900, -2751700, -2761400, -2754100, -2762400, -2753900, -2762000, -2754500, -2761300, -2754800, -2762700, -2753400, -2762000, -2753300, -2761200, -2754200, -2761600,
  -2754200, -2761600, -2753300, -2762700, -2753600, -2762000, -2754700, -2761000, -2754500, -2761800, -2753500, -2762300, -2753000, -2762400, -2754300, -2761500, -2754100, -2761100, -2753800, -2762100,
  -2753700, -2762200, -2754000, -2760900, -2754600, -2761700, -2753200, -2762600, -2753400, -2762100, -2754400, -2761200, -2754900, -2761600, -2753600, -2762400, -2753800, -2762800, -2754500, -2761800,
  -2754300, -2761400, -2753900, -2762000, -2753100, -2762300, -2754500, -2761400, -2754000, -2761700, -2753300, -2762800, -2753500, -2761900, -2754600, -2761000, -2754700, -2762500, -2753600, -2762200,
  -2750800, -2762300, -2753700, -2761700, -2754400, -2761300, -2753500, -2762500, -2753200, -2762000, -2754600, -2761100, -2754800, -2761600, -2753400, -2762300, -2753600, -2761800, -2754300, -2760900,
  -2754100, -2761800, -2753600, -2764600, -2753900, -2762200, -2754500, -2761600, -2754600, -2761200, -2753700, -2762100, -2753300, -2762400, -2754400, -2761300, -2754200, -2761900, -2753500, -2762600,
  -2753700, -2762300, -2754200, -2761000, -2754500, -2761500, -2753600, -2762400, -2753000, -2762100, -2754300, -2761800, -2754900, -2761300, -2753800, -2762000, -2753400, -2762500, -2754100, -2763900,
  -2754300, -2762000, -2753500, -2761200, -2751300, -2761700, -2754000, -2762500, -2753800, -2762300, -2754600, -2761500, -2754700, -2761900, -2753300, -2762200, -2753200, -2761600, -2754400, -2760800,
  -2754000, -2761500, -2753700, -2762700, -2753500, -2762100, -2754500, -2761300, -2754400, -2761800, -2753400, -2762100, -2753100, -2762500, -2754200, -2761700, -2754800, -2761200, -2753900, -2762400,
  -2753600, -2762200, -2754300, -2761000, -2754200, -2761800, -2753500, -2762600, -2753300, -2762000, -2754400, -2761400, -2754600, -2761700, -2753800, -2762000, -2753900, -2762400, -2754700, -2761200,
  -2754500, -2761600, -2753800, -2762300, -2753000, -2762000, -2754200, -2764600, -2754100, -2762200, -2753400, -2761600, -2753700, -2761900, -2754600, -2762500, -2754300, -2761800, -2753500, -2761100,
  -2753400, -2761400, -2754100, -2762000, -2754700, -2762300, -2753600, -2761300, -2753200, -2761700, -2754300, -2762400, -2754000, -2761800, -2753500, -2760900, -2754800, -2761500, -2753900, -2762200,
  -2753500, -2762400, -2753900, -2761500, -2754200, -2761900, -2753300, -2762700, -2753800, -2762200, -2754400, -2761200, -2754600, -2761700, -2753700, -2762100, -2753100, -2762500, -2754300, -2761700,
  -2754400, -2761600, -2753800, -2762300, -2753600, -2762100, -2754500, -2761000, -2754100, -2761800, -2753400, -2762600, -2753300, -2762000, -2754200, -2761400, -2754700, -2762200, -2753600, -2762000,
  -2753000, -2762100, -2753700, -2761800, -2752200, -2761500, -2754100, -2762400, -2753900, -2762000, -2753500, -2763800, -2754500, -2761700, -2753300, -2761100, -2753400, -2762300, -2754200, -2762200,
  -2754000, -2762200, -2753600, -2761600, -2753200, -2761900, -2754400, -2762500, -2754300, -2761800, -2753500, -2761000, -2753700, -2761600, -2754100, -2762300, -2753500, -2761900, -2754000, -2761200
];

const panelColors = ["#ff0000", "#0000ff", "#808000", "#000080", "#800080", "#008000", "#8000ff", "#000000"];
const panelTicks = [
  [-3974200, -3980400, -3986600, -3992800],
  [-435200, -436900, -438600, -440300],
  [-390000, -391500, -393000, -394500],
  [-451200, -452800, -454400, -456000],
  [-450500, -452200, -453900, -455600],
  [-3357900, -3361800, -3365700, -3369600],
  [-451500, -453000, -454500, -456000],
  [-2750400, -2755200, -2760000, -2764800]
];
const timeTicks = [0, 5, 10, 15, 20];
const timeEnd = 20;

const allSeries = [energyRed, energyBlue, energyOlive, energyNavy, energyPurple, energyGreen, energyViolet, energyBlack];
const timeNs = d3.range(energyRed.length).map(i => i * timeEnd / (energyRed.length - 1));

const w = 1212;
const h = 1486;
const plotLeft = 218, plotRight = 1192, plotTop = 15, plotBottom = 1349;
const panelH = (plotBottom - plotTop) / allSeries.length;

const svg = d3.select("#chart").append("svg")
  .attr("width", w)
  .attr("height", h);

const x = d3.scaleLinear().domain([0, timeEnd]).range([plotLeft, plotRight]);

allSeries.forEach((values, p) => {
  const ticks = panelTicks[p];
  const step = ticks[0] - ticks[1];
  const y0 = plotTop + p * panelH;
  const y = d3.scaleLinear()
    .domain([ticks[3] - step / 2, ticks[0] + step / 2])
    .range([y0 + panelH, y0]);
  const minor = ticks.slice(0, 3).map(t => t - step / 2);

  const g = svg.append("g");

  g.append("clipPath").attr("id", "clip" + p)
    .append("rect")
    .attr("x", plotLeft).attr("y", y0)
    .attr("width", plotRight - plotLeft).attr("height", panelH);

  g.append("path")
    .datum(values)
    .attr("clip-path", "url(#clip" + p + ")")
    .attr("fill", "none")
    .attr("stroke", panelColors[p])
    .attr("stroke-width", p === 7 ? 2.2 : 2.7)
    .attr("stroke-linejoin", "round")
    .attr("d", d3.line().x((d, i) => x(timeNs[i])).y(d => y(d)));

  // left axis with labels
  g.append("g")
    .attr("transform", "translate(" + plotLeft + ",0)")
    .call(d3.axisLeft(y).tickValues(ticks).tickSize(-20).tickPadding(18).tickFormat(d => String(d)))
    .attr("font-size", 24)
    .call(a => a.select(".domain").remove())
    .call(a => a.selectAll("line").attr("stroke-width", 2.5))
    .call(a => a.selectAll("text").attr("transform", "scale(1.27,1)"));

  g.append("g")
    .attr("transform", "translate(" + plotLeft + ",0)")
    .call(d3.axisLeft(y).tickValues(minor).tickSize(-10).tickFormat(""))
    .call(a => a.select(".domain").remove())
    .call(a => a.selectAll("line").attr("stroke-width", 2.5));

  // right mirror ticks
  g.append("g")
    .attr("transform", "translate(" + plotRight + ",0)")
    .call(d3.axisRight(y).tickValues(ticks).tickSize(-20).tickFormat(""))
    .call(a => a.select(".domain").remove())
    .call(a => a.selectAll("line").attr("stroke-width", 2.5));

  g.append("g")
    .attr("transform", "translate(" + plotRight + ",0)")
    .call(d3.axisRight(y).tickValues(minor).tickSize(-10).tickFormat(""))
    .call(a => a.select(".domain").remove())
    .call(a => a.selectAll("line").attr("stroke-width", 2.5));

  // time ticks at the bottom of every panel
  const last = p === allSeries.length - 1;
  g.append("g")
    .attr("transform", "translate(0," + (y0 + panelH) + ")")
    .call(d3.axisBottom(x).tickValues(last ? timeTicks : timeTicks.slice(1, 4))
      .tickSize(-15).tickPadding(24).tickFormat(last ? d => String(d) : ""))
    .attr("font-size", 38)
    .call(a => a.select(".domain").remove())
    .call(a => a.selectAll("line").attr("stroke-width", 2.5))
    .call(a => a.selectAll("text").filter(d => d === timeEnd).attr("dx", -7));

  if (p === 0) {
    g.append("g")
      .attr("transform", "translate(0," + y0 + ")")
      .call(d3.axisTop(x).tickValues(timeTicks.slice(1, 4)).tickSize(-15).tickFormat(""))
      .call(a => a.select(".domain").remove())
      .call(a => a.selectAll("line").attr("stroke-width", 2.5));
  }

  g.append("rect")
    .attr("x", plotLeft).attr("y", y0)
    .attr("width", plotRight - plotLeft).attr("height", panelH)
    .attr("fill", "none")
    .attr("stroke", "#000")
    .attr("stroke-width", 3);
});

svg.append("text")
  .attr("x", 688)
  .attr("y", 1473)
  .attr("text-anchor", "middle")
  .attr("font-size", 36)
  .attr("textLength", 297)
  .attr("lengthAdjust", "spacingAndGlyphs")
  .text("Timescale (ns)");

svg.append("text")
  .attr("transform", "translate(47,562) rotate(-90)")
  .attr("text-anchor", "middle")
  .attr("font-size", 44)
  .attr("textLength", 505)
  .attr("lengthAdjust", "spacingAndGlyphs")
  .text("Potential Energy (Kcal/mol)");
</script>
</body>
</html>
